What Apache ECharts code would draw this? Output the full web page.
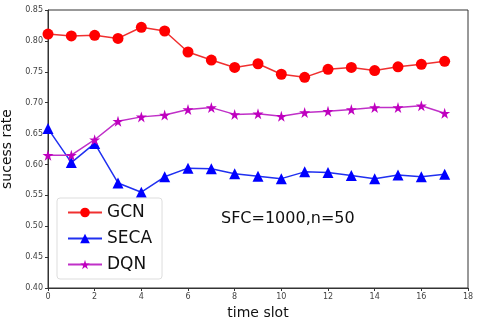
<!DOCTYPE html>
<html>
<head>
<meta charset="utf-8">
<script src="https://cdn.jsdelivr.net/npm/echarts@6/dist/echarts.min.js"></script>
<style>
  html, body { margin: 0; padding: 0; background: #fff; }
  #chart { width: 480px; height: 321px; }
</style>
</head>
<body>
<div id="chart"></div>
<script>
// time slots
const timeSlots = [0, 1, 2, 3, 4, 5, 6, 7, 8, 9, 10, 11, 12, 13, 14, 15, 16, 17];
// sucess rate per method
const gcnRate  = [0.811, 0.808, 0.809, 0.804, 0.822, 0.816, 0.782, 0.769, 0.757, 0.763, 0.746, 0.741, 0.754, 0.757, 0.752, 0.758, 0.762, 0.767];
const secaRate = [0.658, 0.603, 0.634, 0.570, 0.555, 0.580, 0.594, 0.593, 0.585, 0.581, 0.577, 0.588, 0.587, 0.582, 0.577, 0.583, 0.580, 0.584];
const dqnRate  = [0.615, 0.615, 0.640, 0.670, 0.677, 0.680, 0.689, 0.692, 0.681, 0.682, 0.678, 0.684, 0.686, 0.689, 0.692, 0.692, 0.695, 0.683];

function pairs(vals) {
    return timeSlots.map((t, i) => [t, vals[i]]);
}

const myChart = echarts.init(document.getElementById('chart'));

const option = {
    animation: false,
    grid: {
        left: 48,
        right: 12,
        top: 10,
        bottom: 33,
        outerBoundsMode: 'none',
        containLabel: false,
        show: true,
        borderColor: '#333',
        borderWidth: 1
    },
    legend: {
        orient: 'vertical',
        left: 57,
        top: 198,
        itemWidth: 34,
        itemHeight: 12,
        itemGap: 9,
        padding: [6, 10, 6, 10],
        backgroundColor: '#fff',
        borderColor: '#ddd',
        borderWidth: 1,
        borderRadius: 3,
        textStyle: { fontSize: 17, color: '#111', fontFamily: 'DejaVu Sans' },
        data: ['GCN', 'SECA', 'DQN']
    },
    graphic: [
        {
            type: 'text',
            left: 221,
            top: 211,
            style: { text: 'SFC=1000,n=50', fontSize: 16, fill: '#111', fontFamily: 'DejaVu Sans' }
        }
    ],
    xAxis: {
        type: 'value',
        min: 0,
        max: 18,
        interval: 2,
        name: 'time slot',
        nameLocation: 'middle',
        nameGap: 18,
        nameTextStyle: { fontSize: 14, color: '#111', fontFamily: 'DejaVu Sans' },
        axisLine: { lineStyle: { color: '#333' } },
        axisTick: { length: 3, lineStyle: { color: '#333' } },
        axisLabel: { fontSize: 8, color: '#444', margin: 5, fontFamily: 'DejaVu Sans' },
        splitLine: { show: false }
    },
    yAxis: {
        type: 'value',
        min: 0.40,
        max: 0.85,
        interval: 0.05,
        name: 'sucess rate',
        nameLocation: 'middle',
        nameGap: 29,
        nameTextStyle: { fontSize: 14, color: '#111', fontFamily: 'DejaVu Sans' },
        axisLine: { show: true, lineStyle: { color: '#333' } },
        axisTick: { show: true, length: 3, lineStyle: { color: '#333' } },
        axisLabel: {
            fontSize: 8, color: '#444', margin: 5, fontFamily: 'DejaVu Sans',
            formatter: v => v.toFixed(2)
        },
        splitLine: { show: false }
    },
    series: [
        {
            name: 'GCN',
            type: 'line',
            data: pairs(gcnRate),
            symbol: 'circle',
            symbolSize: 11,
            itemStyle: { color: '#ff0000' },
            lineStyle: { color: '#f03030', width: 1.5 }
        },
        {
            name: 'SECA',
            type: 'line',
            data: pairs(secaRate),
            symbol: 'triangle',
            symbolSize: 11,
            itemStyle: { color: '#0000ff' },
            lineStyle: { color: '#2030f0', width: 1.5 }
        },
        {
            name: 'DQN',
            type: 'line',
            data: pairs(dqnRate),
            symbol: 'path://M50,0 L61,35 L98,35 L68,57 L79,91 L50,70 L21,91 L32,57 L2,35 L39,35 Z',
            symbolSize: 11,
            itemStyle: { color: '#bf00bf' },
            lineStyle: { color: '#c030c8', width: 1.5 }
        }
    ]
};

myChart.setOption(option);
</script>
</body>
</html>
